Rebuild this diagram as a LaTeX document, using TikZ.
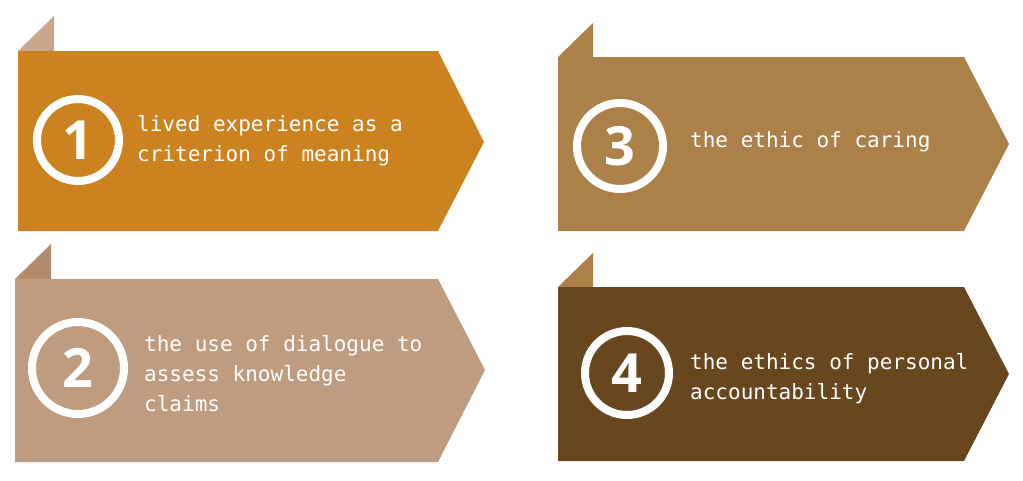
\documentclass[tikz,border=0pt]{standalone}
\usepackage{fontspec}
\setmonofont{DejaVu Sans Mono}
\setsansfont{Open Sans}
\definecolor{ochre}{HTML}{CD8220}
\definecolor{ochretab}{HTML}{C9A78A}
\definecolor{sand}{HTML}{BF9C80}
\definecolor{sandtab}{HTML}{B38A6A}
\definecolor{bronze}{HTML}{AB8149}
\definecolor{umber}{HTML}{68471F}
\begin{document}
\begin{tikzpicture}[x=1pt, y=-1pt,
    itemtext/.style = {anchor=base west, align=left, text=white, inner sep=0pt,
                       font=\ttfamily\fontsize{21}{30}\selectfont},
    ring/.style = {circle, draw=white, line width=8pt, inner sep=0pt},
    digit/.style = {text=white, inner sep=0pt, font=\sffamily\bfseries\fontsize{54}{54}\selectfont}]
    \useasboundingbox (0,0) rectangle (1023,480);
    % 1
    \fill[ochretab] (18,51) -- (54,16) -- (54,51) -- cycle;
    \fill[ochre] (18,51) -- (438,51) -- (484,142) -- (438,231) -- (18,231) -- cycle;
    \node[ring, minimum size=82pt] (ring1) at (78,140) {};
    \node[digit] (num1) at (ring1) {1};
    \node[itemtext] (text1) at (137,161) {lived experience as a\\criterion of meaning};
    % 2
    \fill[sandtab] (15,279) -- (51,244) -- (51,279) -- cycle;
    \fill[sand] (15,279) -- (438,279) -- (485,370) -- (438,462) -- (15,462) -- cycle;
    \node[ring, minimum size=92pt] (ring2) at (78,368) {};
    \node[digit] (num2) at (ring2) {2};
    \node[itemtext] (text2) at (144,411) {the use of dialogue to\\assess knowledge\\claims};
    % 3
    \fill[bronze] (558,57) -- (593,23) -- (593,57) -- cycle;
    \fill[bronze] (558,57) -- (964,57) -- (1009,144) -- (964,231) -- (558,231) -- cycle;
    \node[ring, minimum size=86pt] (ring3) at (620,146) {};
    \node[digit] (num3) at (ring3) {3};
    \node[itemtext] (text3) at (690,147) {the ethic of caring};
    % 4
    \fill[bronze] (558,287) -- (593,253) -- (593,287) -- cycle;
    \fill[umber] (558,287) -- (964,287) -- (1009,374) -- (964,461) -- (558,461) -- cycle;
    \node[ring, minimum size=84pt] (ring4) at (627,373) {};
    \node[digit] (num4) at (ring4) {4};
    \node[itemtext] (text4) at (690,399) {the ethics of personal\\accountability};
\end{tikzpicture}
\end{document}
